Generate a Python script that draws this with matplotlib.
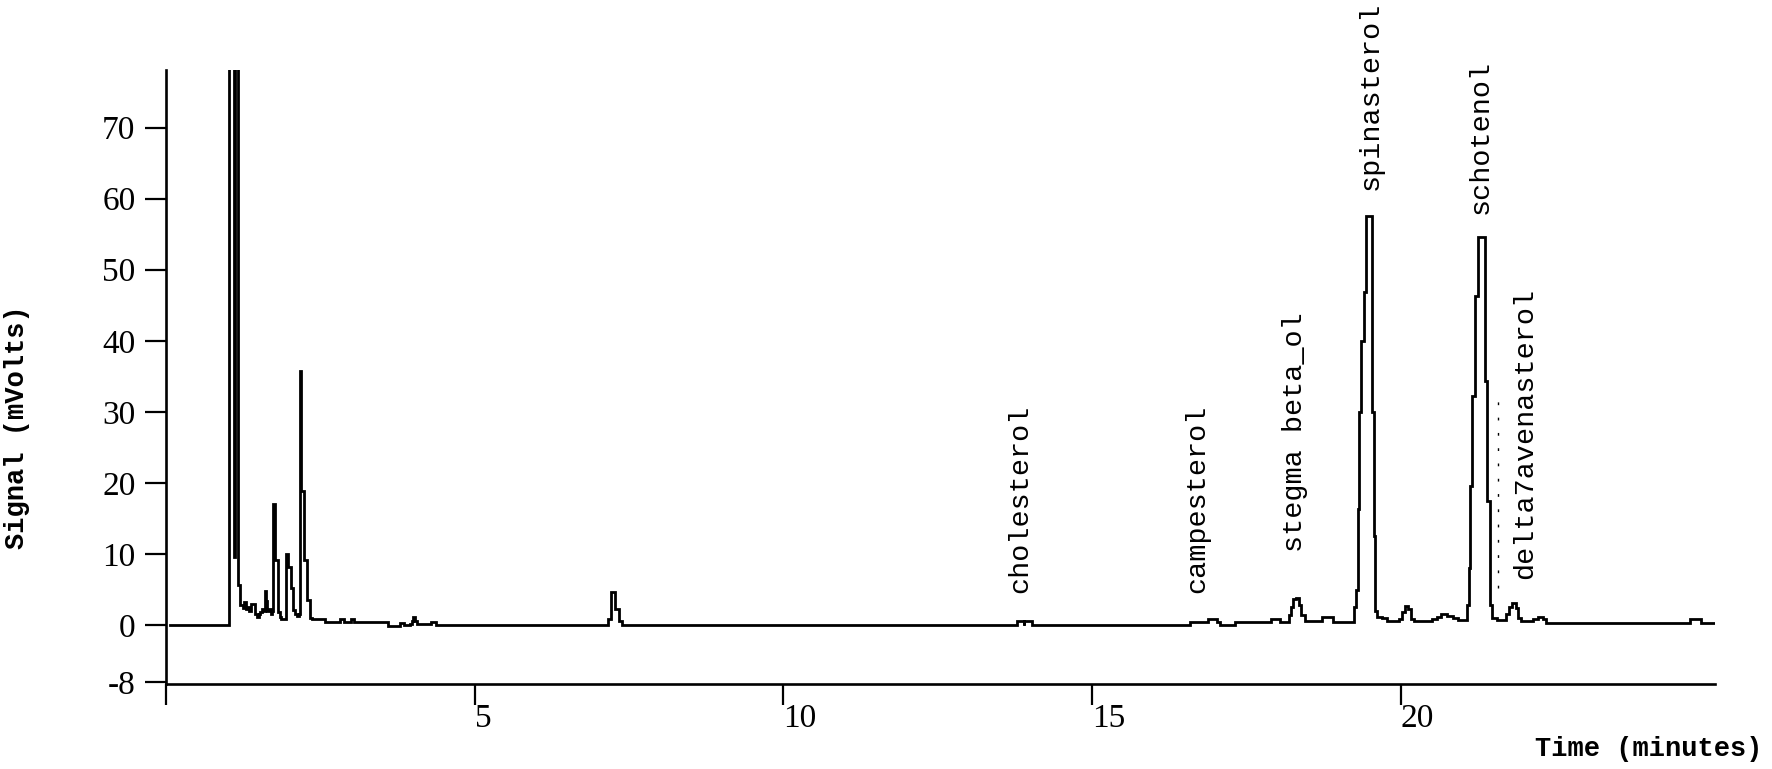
#-------------------------------------------------------------------------------
# Chromatogram of a sterol fraction (GC trace, signal in mV vs time in minutes)
#-------------------------------------------------------------------------------
import matplotlib
matplotlib.use('Agg')
import matplotlib.pyplot as plt

#-------------------------------------------------------------------------------
# Trace (time in minutes, signal in mVolts)
time_min = [0.06, 1.02, 1.02, 1.10, 1.10, 1.12, 1.12, 1.16, 1.16, 1.20, 1.20,
            1.24, 1.27, 1.29, 1.32, 1.35, 1.38, 1.41, 1.44, 1.47, 1.50, 1.53,
            1.56, 1.59, 1.60, 1.62, 1.63, 1.67, 1.70, 1.72, 1.73, 1.75, 1.76,
            1.80, 1.81, 1.84, 1.87, 1.91, 1.94, 1.95, 1.98, 2.02, 2.06, 2.09,
            2.12, 2.15, 2.17, 2.17, 2.18, 2.19, 2.22, 2.24, 2.27, 2.29, 2.32,
            2.34, 2.36, 2.56, 2.57, 2.80, 2.82, 2.87, 2.88, 2.98, 2.99, 3.04,
            3.05, 3.58, 3.59, 3.78, 3.79, 3.83, 3.86, 3.95, 3.98, 4.00, 4.03,
            4.06, 4.28, 4.30, 4.35, 4.37,
            7.14, 7.16, 7.20, 7.21, 7.26, 7.27, 7.32, 7.33, 7.38, 7.39,
            13.78, 13.79, 13.88, 13.89, 13.90, 14.02, 14.03,
            16.56, 16.58, 16.85, 16.88, 16.98, 17.02, 17.08, 17.30, 17.32,
            17.86, 17.90, 18.00, 18.04, 18.16, 18.19, 18.22, 18.26, 18.30,
            18.35, 18.39, 18.45, 18.70, 18.72, 18.87, 18.90,
            19.20, 19.24, 19.27, 19.30, 19.33, 19.36, 19.40, 19.44, 19.52,
            19.54, 19.56, 19.59, 19.62, 19.70, 19.78, 19.92, 19.98, 20.02,
            20.07, 20.12, 20.17, 20.22, 20.45, 20.50, 20.58, 20.66, 20.75,
            20.85, 20.92, 21.02,
            21.07, 21.10, 21.13, 21.16, 21.20, 21.25, 21.33, 21.36, 21.40,
            21.45, 21.48, 21.56, 21.66, 21.70, 21.75, 21.80, 21.86, 21.90,
            21.95, 22.10, 22.15, 22.22, 22.30, 22.35, 24.65, 24.68, 24.84,
            24.87, 25.09]

signal_mv = [0.0, 0.0, 150.0, 150.0, 9.6, 9.6, 150.0, 150.0, 5.6, 5.6, 2.8,
             2.4, 3.3, 2.2, 2.6, 2.0, 3.0, 2.9, 1.6, 1.2, 1.6, 1.8,
             2.3, 2.0, 4.8, 3.4, 2.0, 2.2, 1.6, 2.0, 17.0, 17.0, 9.1,
             9.1, 1.8, 1.2, 0.8, 0.9, 1.5, 10.0, 8.2, 5.2, 2.1, 1.6,
             1.3, 1.6, 2.0, 35.8, 35.8, 18.9, 18.9, 9.1, 9.1, 3.5, 3.5,
             1.0, 0.8, 0.8, 0.4, 0.4, 0.8, 0.8, 0.4, 0.4, 0.8, 0.8,
             0.4, 0.4, -0.1, -0.1, 0.3, 0.3, 0.0, 0.1, 0.6, 1.2, 0.6,
             0.1, 0.1, 0.4, 0.4, 0.0,
             0.0, 0.9, 0.9, 4.7, 4.7, 2.3, 2.3, 0.5, 0.5, 0.0,
             0.0, 0.5, 0.5, 0.0, 0.5, 0.5, 0.0,
             0.0, 0.4, 0.4, 0.8, 0.8, 0.4, 0.0, 0.0, 0.4,
             0.4, 0.8, 0.8, 0.4, 0.4, 1.4, 2.6, 3.6, 3.8,
             2.8, 1.4, 0.5, 0.5, 1.1, 1.1, 0.4,
             0.4, 2.6, 4.9, 16.3, 30.0, 40.0, 46.9, 57.6, 57.6,
             30.0, 12.5, 2.0, 1.2, 1.0, 0.6, 0.5, 0.9, 1.8,
             2.7, 2.2, 0.9, 0.5, 0.5, 0.9, 1.2, 1.5, 1.3,
             1.0, 0.7, 0.7,
             2.8, 8.0, 19.5, 32.2, 46.3, 54.6, 54.6, 34.3, 17.4,
             2.8, 1.0, 0.7, 0.7, 1.5, 2.6, 3.1, 2.4, 1.0,
             0.6, 0.6, 0.9, 1.2, 0.8, 0.3, 0.3, 0.8, 0.8,
             0.3, 0.3]

# Peak identification (label anchor: retention time, signal)
peak_names = ['cholesterol', 'campesterol', 'stegma beta_ol', 'spinasterol',
              'schotenol', 'delta7avenasterol']
peak_time = [13.83, 16.71, 18.28, 19.51, 21.29, 22.02]
peak_level = [4.5, 4.5, 10.3, 61.2, 57.8, 6.5]

# Integration marker on the schotenol tail
marker_time = 21.58
marker_range = (5.2, 31.5)

y_ticks = [-8, 0, 10, 20, 30, 40, 50, 60, 70]
x_ticks = [0, 5, 10, 15, 20]
x_ticklabels = ['', '5', '10', '15', '20']

#-------------------------------------------------------------------------------
plt.rcParams['axes.unicode_minus'] = False
mono = ['Liberation Mono', 'DejaVu Sans Mono']
tickfont = ['Liberation Serif', 'DejaVu Serif']

fig = plt.figure(figsize=(17.72, 7.69), dpi=100)
ax = fig.add_axes([0.0937, 0.1105, 0.8741, 0.7985])

# Detector output is sampled, so draw it as a staircase
ax.plot(time_min, signal_mv, color='black', lw=2.0, drawstyle='steps-post',
        solid_joinstyle='miter')
ax.vlines(marker_time, marker_range[0], marker_range[1], colors='black',
          lw=1.0, linestyles=(0, (2, 9)))

# Peak names, written vertically above each peak
for name, t, s in zip(peak_names, peak_time, peak_level):
    ax.text(t, s, name, rotation=90, ha='center', va='bottom',
            family=mono, fontsize=20.5, clip_on=False)

# Limits and ticks
ax.set_xlim(0, 25.09)
ax.set_ylim(-8.3, 78.1)
ax.set_yticks(y_ticks)
ax.set_xticks(x_ticks)
ax.set_xticklabels(x_ticklabels, ha='left')
ax.tick_params(axis='both', direction='out', length=15, width=1.6,
               labelsize=24)
ax.tick_params(axis='y', pad=7)
ax.tick_params(axis='x', pad=-1)
for lab in ax.get_xticklabels() + ax.get_yticklabels():
    lab.set_family(tickfont)

# Spines: only left and bottom, as in the data system printout
for side in ['top', 'right']:
    ax.spines[side].set_visible(False)
for side in ['left', 'bottom']:
    ax.spines[side].set_linewidth(1.9)

# Axis titles
fig.text(0.0096, 0.445, 'Signal (mVolts)', rotation=90, ha='center',
         va='center', family=mono, fontsize=19.5, fontweight='bold')
fig.text(0.9305, 0.026, 'Time (minutes)', ha='center', va='center',
         family=mono, fontsize=19.5, fontweight='bold')

fig.savefig('out.png', dpi=100)
